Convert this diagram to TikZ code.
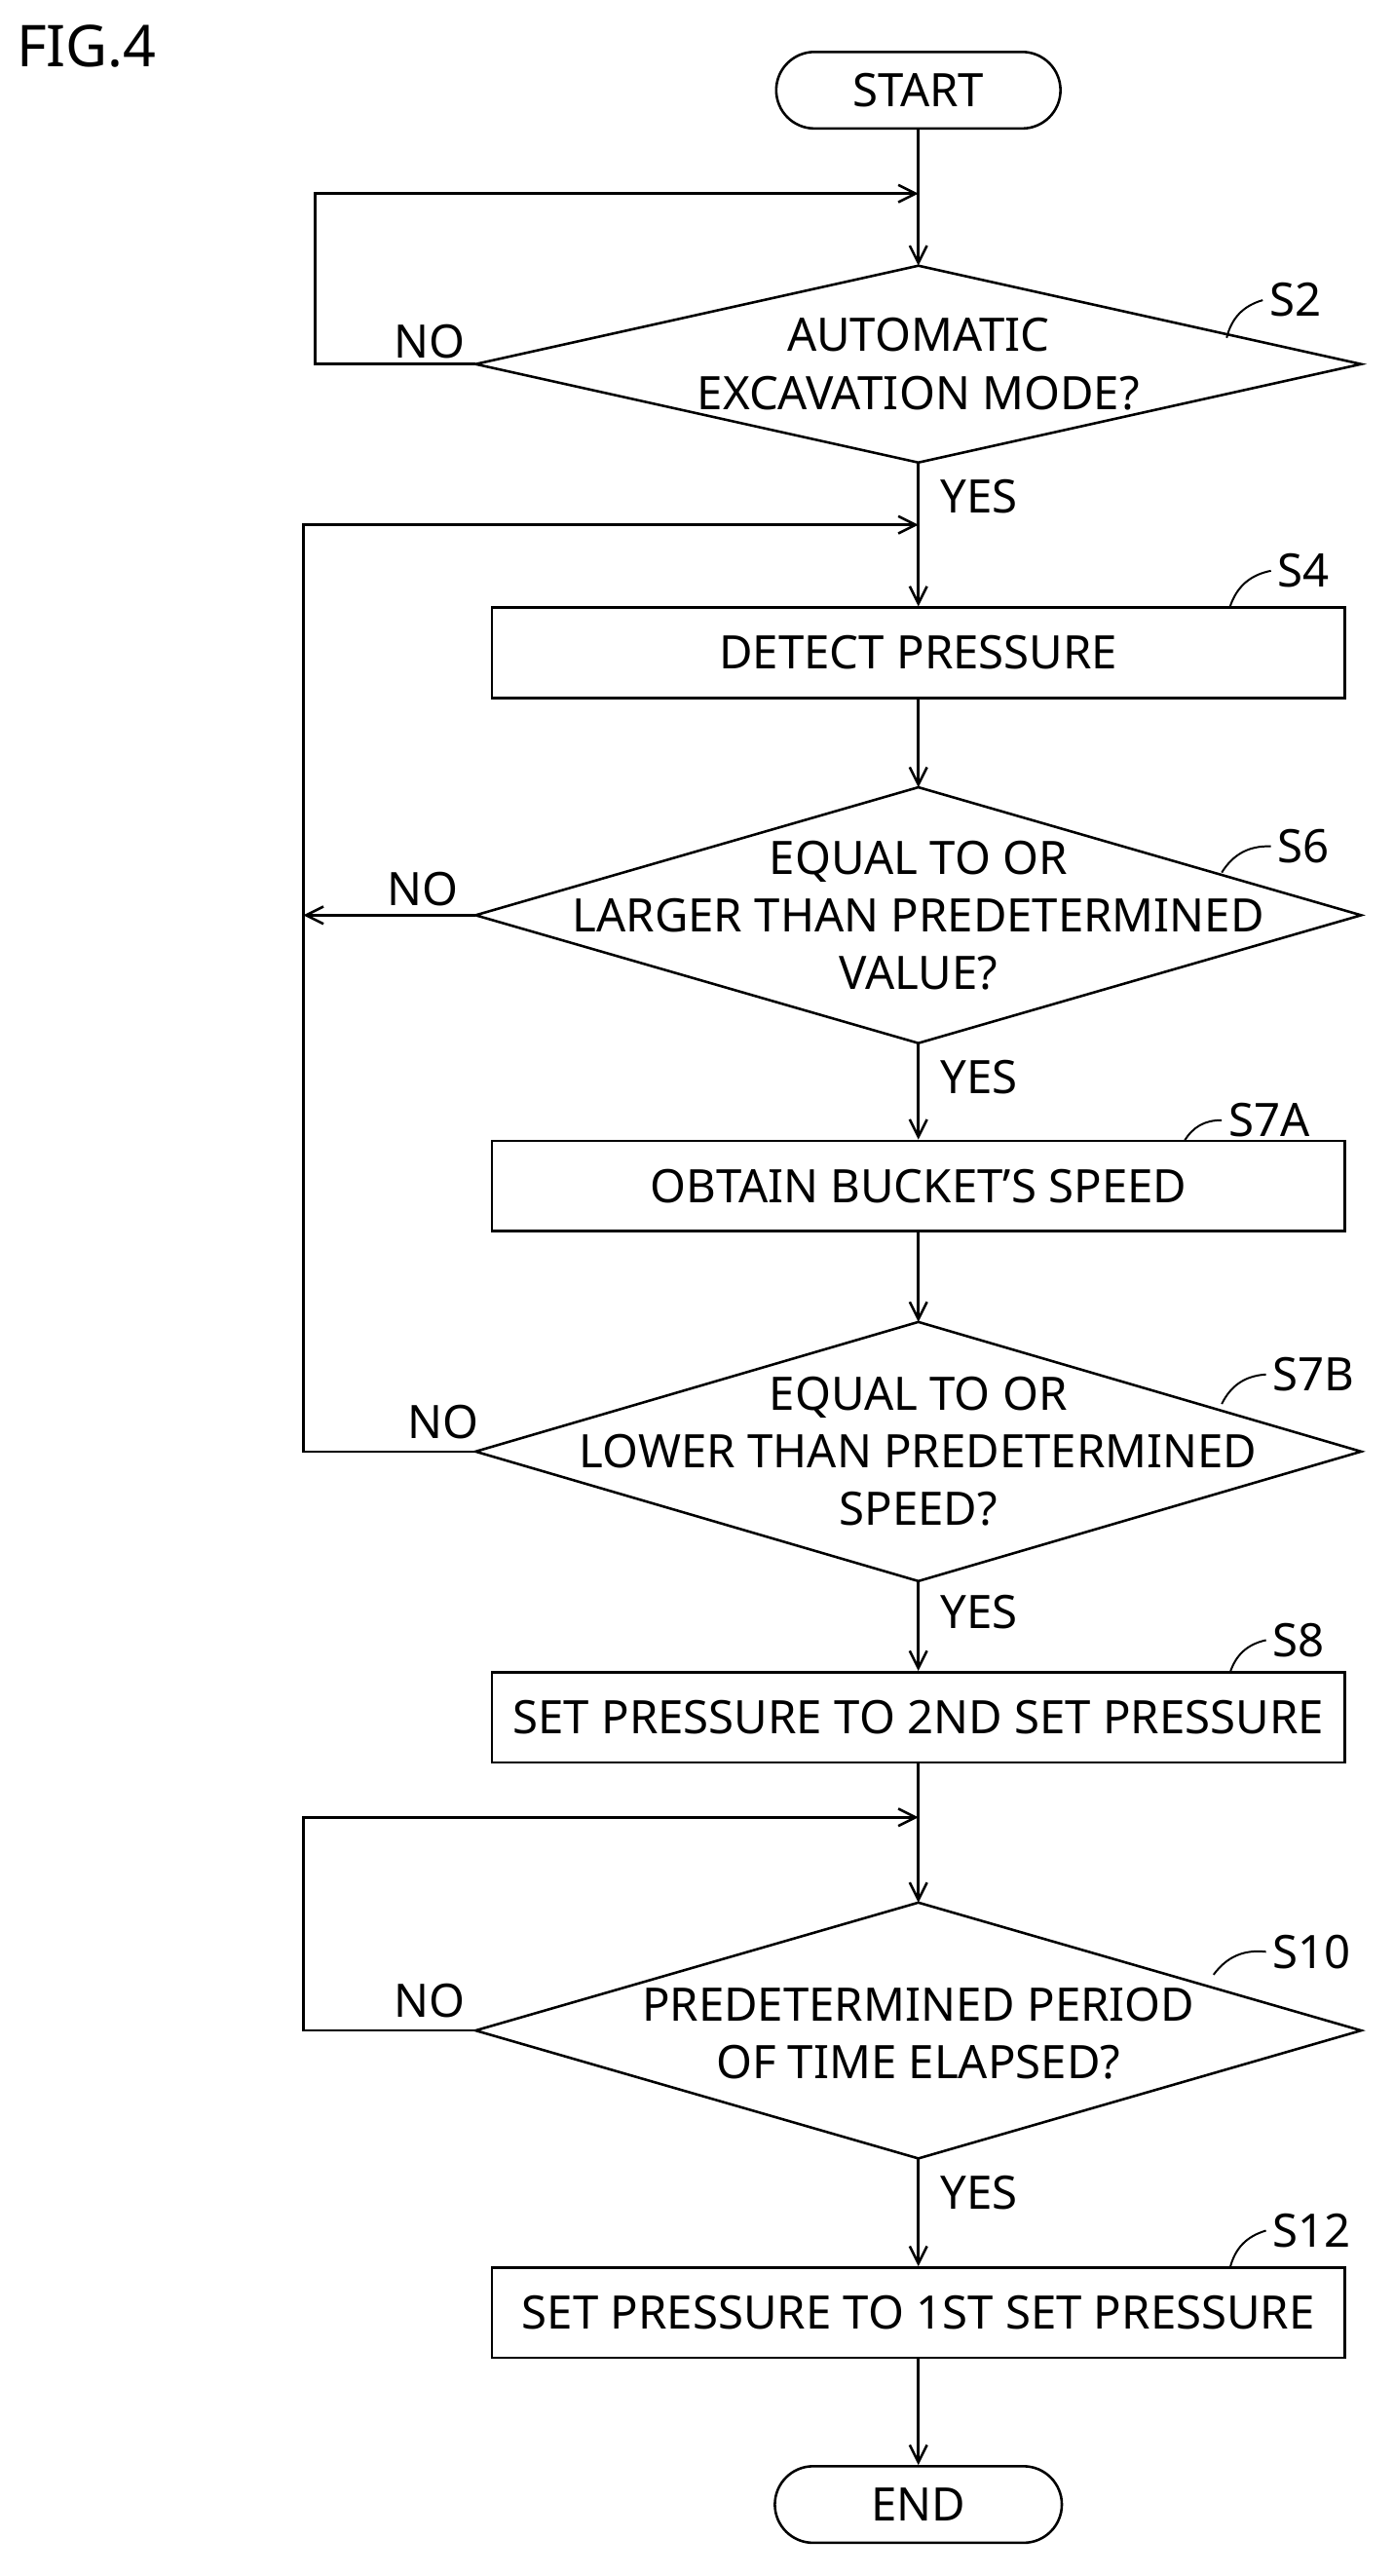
\documentclass[tikz,border=0pt]{standalone}
\usepackage{fontspec}
\setmainfont{Noto Sans}
\usetikzlibrary{arrows.meta}
\begin{document}
\begin{tikzpicture}[x=0.03cm,y=-0.03cm,
  every node/.style={font=\fontsize{24}{30}\selectfont},
  ln/.style={line width=1.3pt},
  arr/.style={ln,-{Straight Barb[length=9pt,width=9pt,line width=1.3pt]}},
  box/.style={ln,draw,rectangle,minimum height=1.65cm,align=center},
  term/.style={ln,draw,rounded corners=0.7cm,minimum height=1.4cm,align=center},
  lbl/.style={anchor=west},
  lead/.style={line width=1pt}]
\useasboundingbox (0,0) rectangle (850,1570.6);
\node[anchor=west] (fig) at (6,28) {\fontsize{30}{34}\selectfont FIG.4};
% terminals
\node[term,minimum width=5.2cm] (start) at (560,55) {START};
\node[term,minimum width=5.25cm] (end) at (560,1527) {END};
% diamonds
\foreach \n/\cy/\h in {d2/222/60,d6/558/78,d7/885/79,d10/1238/78}{
  \draw[ln] (290,\cy) coordinate (\n w) -- (560,\cy-\h) coordinate (\n n) -- (830,\cy) coordinate (\n e) -- (560,\cy+\h) coordinate (\n s) -- cycle;
}
\node[align=center] (t2) at (560,222) {AUTOMATIC\\EXCAVATION MODE?};
\node[align=center] (t6) at (560,558) {EQUAL TO OR\\LARGER THAN PREDETERMINED\\VALUE?};
\node[align=center] (t7) at (560,885) {EQUAL TO OR\\LOWER THAN PREDETERMINED\\SPEED?};
\node[align=center] (t10) at (560,1240) {PREDETERMINED PERIOD\\OF TIME ELAPSED?};
% boxes
\node[box,minimum width=15.6cm] (s4) at (560,398) {DETECT PRESSURE};
\node[box,minimum width=15.6cm] (s7a) at (560,723) {OBTAIN BUCKET'S SPEED};
\node[box,minimum width=15.6cm] (s8) at (560,1047) {SET PRESSURE TO 2ND SET PRESSURE};
\node[box,minimum width=15.6cm] (s12) at (560,1410) {SET PRESSURE TO 1ST SET PRESSURE};
% junction coordinates
\coordinate (j1) at (560,118);
\coordinate (j2) at (560,320);
\coordinate (j3) at (560,1108);
\coordinate (l1) at (192,118);
\coordinate (l2) at (185,320);
\coordinate (l3) at (185,1108);
% main flow
\draw[arr] (start) -- (d2n);
\draw[arr] (d2s) -- (s4);
\draw[arr] (s4) -- (d6n);
\draw[arr] (d6s) -- (s7a);
\draw[arr] (s7a) -- (d7n);
\draw[arr] (d7s) -- (s8);
\draw[arr] (s8) -- (d10n);
\draw[arr] (d10s) -- (s12);
\draw[arr] (s12) -- (end);
% loops
\draw[arr] (d2w) -| (l1) -- (j1);
\draw[arr] (d7w) -| (l2) -- (j2);
\draw[arr] (d6w) -- (185,558);
\draw[arr] (d10w) -| (l3) -- (j3);
% yes/no
\node (n2) at (262,208) {NO};
\node (n6) at (258,542) {NO};
\node (n7) at (270,867) {NO};
\node (n10) at (262,1220) {NO};
\node (y2) at (597,303) {YES};
\node (y6) at (597,657) {YES};
\node (y7) at (597,983) {YES};
\node (y10) at (597,1337) {YES};
% step labels
\node[lbl] (ls2) at (770,183) {S2};
\node[lbl] (ls4) at (775,348) {S4};
\node[lbl] (ls6) at (775,516) {S6};
\node[lbl] (ls7a) at (745,683) {S7A};
\node[lbl] (ls7b) at (772,838) {S7B};
\node[lbl] (ls8) at (772,1000) {S8};
\node[lbl] (ls10) at (772,1190) {S10};
\node[lbl] (ls12) at (772,1360) {S12};
\draw[lead] (ls2.west) to[bend right=30] (748,206);
\draw[lead] (ls4.west) to[bend right=30] (750,370);
\draw[lead] (ls6.west) to[bend right=30] (745,532);
\draw[lead] (ls7a.west) to[bend right=30] (722,696);
\draw[lead] (ls7b.west) to[bend right=30] (745,856);
\draw[lead] (ls8.west) to[bend right=30] (750,1020);
\draw[lead] (ls10.west) to[bend right=30] (740,1204);
\draw[lead] (ls12.west) to[bend right=30] (750,1383);
\end{tikzpicture}
\end{document}
